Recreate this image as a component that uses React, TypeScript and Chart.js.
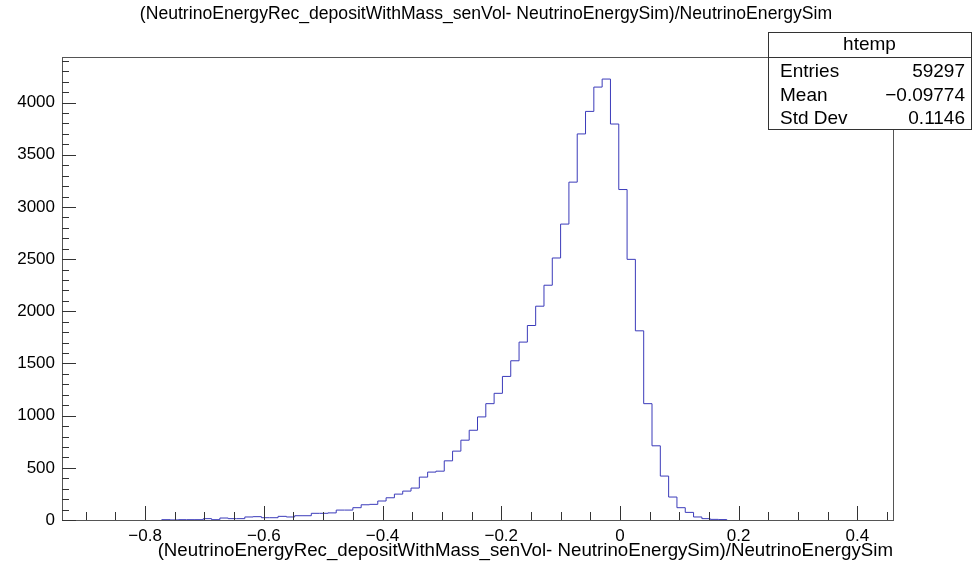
import React, { useEffect, useRef } from 'react';
import { Chart, registerables } from 'chart.js';
Chart.register(...registerables);

const histXMin = -0.94;
const histXMax = 0.46;
const binCounts = [
  0, 0, 0, 0, 0, 0, 0, 0, 0, 0, 0, 0,
  3, 1, 3, 3, 3, 13, 3, 19, 13, 13, 29, 32, 22, 22, 35, 29, 41, 41, 64, 64, 68, 95,
  95, 118, 146, 150, 182, 213, 248, 277, 306, 411, 459, 468, 567, 660, 765, 860, 988, 1115, 1214, 1376, 1526, 1705, 1864,
  2049, 2250, 2511, 2836, 3238, 3700, 3916, 4149, 4226, 3795, 3167, 2498,
  1813, 1115, 711, 421, 220, 118, 73, 29, 13, 6, 4,
  0, 0, 0, 0, 0, 0, 0, 0, 0, 0, 0, 0, 0, 0, 0, 0, 0, 0, 0, 0,
];
const xTickValues = [-0.8, -0.6, -0.4, -0.2, 0, 0.2, 0.4];
const xMinorStep = 0.05;
const yTickValues = [0, 500, 1000, 1500, 2000, 2500, 3000, 3500, 4000];
const yMinorStep = 100;
const statsName = 'htemp';
const statsLabels = ['Entries', 'Mean', 'Std Dev'];
const statsValues = ['59297', '\u22120.09774', '0.1146'];
const titleText = '(NeutrinoEnergyRec_depositWithMass_senVol- NeutrinoEnergySim)/NeutrinoEnergySim';
const xAxisTitle = '(NeutrinoEnergyRec_depositWithMass_senVol- NeutrinoEnergySim)/NeutrinoEnergySim';

const FONT = "'Liberation Sans', Arial, Helvetica, sans-serif";
const LINE_COLOR = '#3b3bba';

function fmtX(v: number): string {
  if (Math.abs(v) < 1e-9) return '0';
  const s = Math.abs(v).toFixed(1);
  return v < 0 ? '\u2212' + s : s;
}

const rootPlugin = {
  id: 'rootDecor',
  afterDraw(chart: any) {
    const ctx = chart.ctx;
    const { left, right, top, bottom } = chart.chartArea;
    const xs = chart.scales.x;
    const ys = chart.scales.y;
    ctx.save();
    // frame
    ctx.strokeStyle = '#555';
    ctx.lineWidth = 1;
    ctx.strokeRect(Math.round(left) + 0.5, Math.round(top) + 0.5, Math.round(right - left), Math.round(bottom - top));
    // x ticks
    ctx.strokeStyle = '#333';
    ctx.beginPath();
    const nStart = Math.ceil(histXMin / xMinorStep - 1e-6);
    const nEnd = Math.floor(histXMax / xMinorStep + 1e-6);
    for (let n = nStart; n <= nEnd; n++) {
      const v = n * xMinorStep;
      const isMajor = xTickValues.some((t) => Math.abs(t - v) < 1e-6);
      const px = Math.round(xs.getPixelForValue(v)) + 0.5;
      const len = isMajor ? 14 : 8;
      ctx.moveTo(px, bottom);
      ctx.lineTo(px, bottom - len);
    }
    // y ticks
    const yMax = ys.max;
    for (let v = 0; v <= yMax + 1e-6; v += yMinorStep) {
      const isMajor = yTickValues.includes(v);
      const py = Math.round(ys.getPixelForValue(v)) + 0.5;
      const len = isMajor ? 14 : 7;
      ctx.moveTo(left, py);
      ctx.lineTo(left + len, py);
    }
    ctx.stroke();

    // title
    ctx.fillStyle = '#000';
    ctx.font = `17.6px ${FONT}`;
    ctx.textAlign = 'center';
    ctx.textBaseline = 'middle';
    ctx.fillText(titleText, chart.width / 2, 14);

    // x axis title
    ctx.font = `18.7px ${FONT}`;
    ctx.textAlign = 'right';
    ctx.fillText(xAxisTitle, right, 551);

    // stats box
    const bx = 768, by = 32, bw = 203, bh = 97;
    ctx.fillStyle = '#fff';
    ctx.fillRect(bx, by, bw, bh);
    ctx.strokeStyle = '#333';
    ctx.strokeRect(bx + 0.5, by + 0.5, bw, bh);
    ctx.beginPath();
    ctx.moveTo(bx, 57.5);
    ctx.lineTo(bx + bw, 57.5);
    ctx.stroke();
    ctx.fillStyle = '#000';
    ctx.font = `19px ${FONT}`;
    ctx.textAlign = 'center';
    ctx.fillText(statsName, bx + bw / 2, 45);
    const rowsY = [72, 96, 119];
    statsLabels.forEach((lab, i) => {
      ctx.textAlign = 'left';
      ctx.fillText(lab, bx + 12, rowsY[i]);
      ctx.textAlign = 'right';
      ctx.fillText(statsValues[i], bx + bw - 6, rowsY[i]);
    });
    ctx.restore();
  },
};

export default function App() {
  const ref = useRef<HTMLCanvasElement>(null);
  useEffect(() => {
    if (!ref.current) return;
    const nBins = binCounts.length;
    const bw = (histXMax - histXMin) / nBins;
    const edge = (k: number) => histXMin + k * bw;
    const first = binCounts.findIndex((c) => c > 0);
    let last = nBins - 1;
    while (last > 0 && binCounts[last] === 0) last--;
    // stepped 'before': horizontal at previous y up to next x, then vertical
    const pts: { x: number; y: number }[] = [{ x: edge(first), y: 0 }];
    for (let k = first; k <= last; k++) pts.push({ x: edge(k), y: binCounts[k] });
    pts.push({ x: edge(last + 1), y: binCounts[last] });
    pts.push({ x: edge(last + 1), y: 0 });
    const yMax = Math.max(...binCounts) * 1.05;

    const chart = new Chart(ref.current, {
      type: 'line',
      data: {
        datasets: [
          {
            data: pts,
            stepped: 'before',
            borderColor: LINE_COLOR,
            borderWidth: 1,
            pointRadius: 0,
            fill: false,
          },
        ],
      },
      options: {
        animation: false,
        responsive: false,
        layout: { padding: { top: 57, right: 79, left: 0, bottom: 0 } },
        plugins: { legend: { display: false }, title: { display: false }, tooltip: { enabled: false } },
        scales: {
          x: {
            type: 'linear',
            min: histXMin,
            max: histXMax,
            grid: { display: false, drawTicks: false },
            border: { display: false },
            afterBuildTicks: (s: any) => {
              s.ticks = xTickValues.map((v) => ({ value: v }));
            },
            afterFit: (s: any) => {
              s.height = 43;
            },
            ticks: {
              autoSkip: false,
              maxRotation: 0,
              padding: 6,
              color: '#000',
              font: { family: FONT, size: 17 },
              callback: (v: any) => fmtX(Number(v)),
            },
          },
          y: {
            type: 'linear',
            min: 0,
            max: yMax,
            grid: { display: false, drawTicks: false },
            border: { display: false },
            afterBuildTicks: (s: any) => {
              s.ticks = yTickValues.map((v) => ({ value: v }));
            },
            afterFit: (s: any) => {
              s.width = 62;
            },
            ticks: {
              autoSkip: false,
              padding: 7,
              color: '#000',
              font: { family: FONT, size: 17 },
              callback: (v: any) => String(v),
            },
          },
        },
      },
      plugins: [rootPlugin],
    });
    return () => chart.destroy();
  }, []);
  return (
    <div style={{ position: 'absolute', left: 0, top: 0, width: 972, height: 563, background: '#fff' }}>
      <canvas ref={ref} width={972} height={563} style={{ display: 'block' }} />
    </div>
  );
}
